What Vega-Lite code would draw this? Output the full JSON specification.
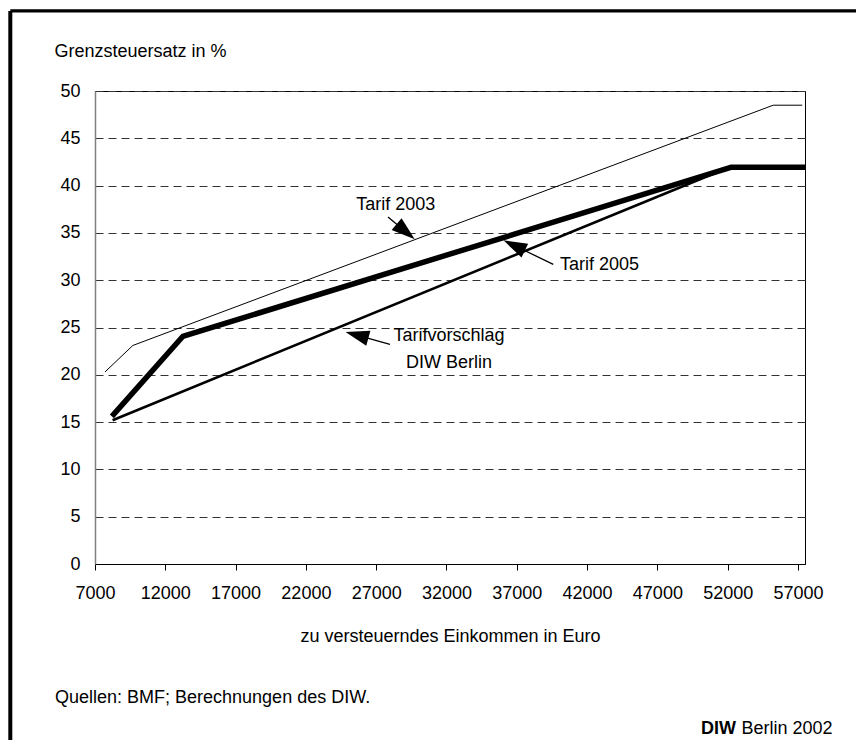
{
  "$schema": "https://vega.github.io/schema/vega-lite/v6.json",
  "width": 710,
  "height": 473,
  "autosize": {"type": "none"},
  "padding": {"left": 95, "top": 91, "right": 51, "bottom": 176},
  "background": "white",
  "config": {
    "font": "Liberation Sans",
    "view": {"stroke": "black", "strokeWidth": 1},
    "axis": {"labelFont": "Liberation Sans", "titleFont": "Liberation Sans", "labelColor": "black", "titleColor": "black", "labelFontSize": 18, "titleFontSize": 18, "titleFontWeight": "normal"},
    "text": {"font": "Liberation Sans", "fontSize": 18, "color": "black"}
  },
  "datasets": {
    "tarif": [
      {"series": "Tarif 2003", "einkommen": 7710, "satz": 20.3},
      {"series": "Tarif 2003", "einkommen": 9690, "satz": 23.1},
      {"series": "Tarif 2003", "einkommen": 55240, "satz": 48.5},
      {"series": "Tarif 2003", "einkommen": 57300, "satz": 48.5},
      {"series": "Tarifvorschlag DIW Berlin", "einkommen": 8250, "satz": 15.2},
      {"series": "Tarifvorschlag DIW Berlin", "einkommen": 52200, "satz": 42},
      {"series": "Tarifvorschlag DIW Berlin", "einkommen": 57500, "satz": 42},
      {"series": "Tarif 2005", "einkommen": 8200, "satz": 15.6},
      {"series": "Tarif 2005", "einkommen": 13240, "satz": 24.05},
      {"series": "Tarif 2005", "einkommen": 52280, "satz": 41.95},
      {"series": "Tarif 2005", "einkommen": 57500, "satz": 41.95}
    ],
    "one": [{}]
  },
  "layer": [
    {
      "data": {"name": "tarif"},
      "transform": [{"filter": "datum.series === 'Tarif 2003'"}],
      "mark": {"type": "line", "color": "black", "strokeWidth": 1, "strokeJoin": "round"},
      "encoding": {
        "x": {"field": "einkommen", "type": "quantitative",
          "scale": {"domain": [7000, 57500], "nice": false, "zero": false},
          "axis": {"values": [7000, 12000, 17000, 22000, 27000, 32000, 37000, 42000, 47000, 52000, 57000], "format": "d", "grid": false, "ticks": true, "tickSize": 6, "tickColor": "black", "domainColor": "black", "labelPadding": 14, "labelFlush": false, "labelOverlap": false,
            "title": "zu versteuerndes Einkommen in Euro", "titleY": 77.7, "titleBaseline": "alphabetic"}},
        "y": {"field": "satz", "type": "quantitative",
          "scale": {"domain": [0, 50], "nice": false},
          "axis": {"values": [0, 5, 10, 15, 20, 25, 30, 35, 40, 45, 50], "grid": true, "gridDash": [8, 5], "gridColor": "#333", "gridWidth": 1, "ticks": false, "labelPadding": 15, "domainColor": "#808080", "domainWidth": 1.5,
            "title": "Grenzsteuersatz in %", "titleAngle": 0, "titleAlign": "left", "titleBaseline": "alphabetic", "titleX": -41, "titleY": -34.5}},
        "order": {"field": "einkommen"}
      }
    },
    {
      "data": {"name": "tarif"},
      "transform": [{"filter": "datum.series === 'Tarifvorschlag DIW Berlin'"}],
      "mark": {"type": "line", "color": "black", "strokeWidth": 2.6, "strokeJoin": "round"},
      "encoding": {
        "x": {"field": "einkommen", "type": "quantitative"},
        "y": {"field": "satz", "type": "quantitative"},
        "order": {"field": "einkommen"}
      }
    },
    {
      "data": {"name": "tarif"},
      "transform": [{"filter": "datum.series === 'Tarif 2005'"}],
      "mark": {"type": "line", "color": "black", "strokeWidth": 5.5, "strokeJoin": "round"},
      "encoding": {
        "x": {"field": "einkommen", "type": "quantitative"},
        "y": {"field": "satz", "type": "quantitative"},
        "order": {"field": "einkommen"}
      }
    },
    {
      "data": {"name": "one"},
      "mark": {"type": "rule", "color": "black", "strokeWidth": 4, "clip": false},
      "encoding": {"x": {"datum": 976, "type": "quantitative"}, "y": {"datum": 58.46, "type": "quantitative"}, "y2": {"datum": -20}}
    },
    {
      "data": {"name": "one"},
      "mark": {"type": "rule", "color": "black", "strokeWidth": 3.3, "clip": false},
      "encoding": {"x": {"datum": 976, "type": "quantitative"}, "x2": {"datum": 62000}, "y": {"datum": 58.46, "type": "quantitative"}}
    },
    {
      "data": {"name": "one"},
      "mark": {"type": "rule", "color": "black", "strokeWidth": 1.3},
      "encoding": {"x": {"datum": 27839, "type": "quantitative"}, "x2": {"datum": 29097}, "y": {"datum": 36.68, "type": "quantitative"}, "y2": {"datum": 35.12}}
    },
    {
      "data": {"name": "one"},
      "mark": {"type": "rule", "color": "black", "strokeWidth": 1.3},
      "encoding": {"x": {"datum": 39594, "type": "quantitative"}, "x2": {"datum": 36813}, "y": {"datum": 31.68, "type": "quantitative"}, "y2": {"datum": 33.67}}
    },
    {
      "data": {"name": "one"},
      "mark": {"type": "rule", "color": "black", "strokeWidth": 1.3},
      "encoding": {"x": {"datum": 27980, "type": "quantitative"}, "x2": {"datum": 25631}, "y": {"datum": 23.22, "type": "quantitative"}, "y2": {"datum": 24.2}}
    },
    {
      "data": {"name": "one"},
      "mark": {"type": "point", "shape": "M0,-1L0.65,1L-0.65,1Z", "filled": true, "color": "black", "opacity": 1, "strokeWidth": 0, "size": 560, "angle": 130},
      "encoding": {"x": {"datum": 29097, "type": "quantitative"}, "y": {"datum": 35.12, "type": "quantitative"}}
    },
    {
      "data": {"name": "one"},
      "mark": {"type": "point", "shape": "M0,-1L0.65,1L-0.65,1Z", "filled": true, "color": "black", "opacity": 1, "strokeWidth": 0, "size": 560, "angle": 295.6},
      "encoding": {"x": {"datum": 36813, "type": "quantitative"}, "y": {"datum": 33.67, "type": "quantitative"}}
    },
    {
      "data": {"name": "one"},
      "mark": {"type": "point", "shape": "M0,-1L0.65,1L-0.65,1Z", "filled": true, "color": "black", "opacity": 1, "strokeWidth": 0, "size": 560, "angle": 285.6},
      "encoding": {"x": {"datum": 25631, "type": "quantitative"}, "y": {"datum": 24.2, "type": "quantitative"}}
    },
    {
      "data": {"name": "one"},
      "mark": {"type": "text", "text": "Tarif 2003", "fontSize": 18, "align": "center", "baseline": "middle", "color": "black"},
      "encoding": {"x": {"datum": 28393, "type": "quantitative"}, "y": {"datum": 37.95, "type": "quantitative"}}
    },
    {
      "data": {"name": "one"},
      "mark": {"type": "text", "text": "Tarif 2005", "fontSize": 18, "align": "left", "baseline": "middle", "color": "black"},
      "encoding": {"x": {"datum": 40071, "type": "quantitative"}, "y": {"datum": 31.6, "type": "quantitative"}}
    },
    {
      "data": {"name": "one"},
      "mark": {"type": "text", "text": "Tarifvorschlag", "fontSize": 18, "align": "center", "baseline": "middle", "color": "black"},
      "encoding": {"x": {"datum": 32176, "type": "quantitative"}, "y": {"datum": 24.13, "type": "quantitative"}}
    },
    {
      "data": {"name": "one"},
      "mark": {"type": "text", "text": "DIW Berlin", "fontSize": 18, "align": "center", "baseline": "middle", "color": "black"},
      "encoding": {"x": {"datum": 32176, "type": "quantitative"}, "y": {"datum": 21.22, "type": "quantitative"}}
    },
    {
      "data": {"name": "one"},
      "mark": {"type": "text", "text": "Quellen: BMF; Berechnungen des DIW.", "fontSize": 18, "align": "left", "baseline": "alphabetic", "color": "black", "clip": false},
      "encoding": {"x": {"datum": 4155, "type": "quantitative"}, "y": {"datum": -14.73, "type": "quantitative"}}
    },
    {
      "data": {"name": "one"},
      "mark": {"type": "text", "text": "DIW", "fontSize": 18, "fontWeight": "bold", "align": "left", "baseline": "alphabetic", "color": "black", "clip": false},
      "encoding": {"x": {"datum": 50100, "type": "quantitative"}, "y": {"datum": -17.97, "type": "quantitative"}}
    },
    {
      "data": {"name": "one"},
      "mark": {"type": "text", "text": "Berlin 2002", "fontSize": 18, "align": "right", "baseline": "alphabetic", "color": "black", "clip": false},
      "encoding": {"x": {"datum": 59466, "type": "quantitative"}, "y": {"datum": -17.97, "type": "quantitative"}}
    }
  ]
}
